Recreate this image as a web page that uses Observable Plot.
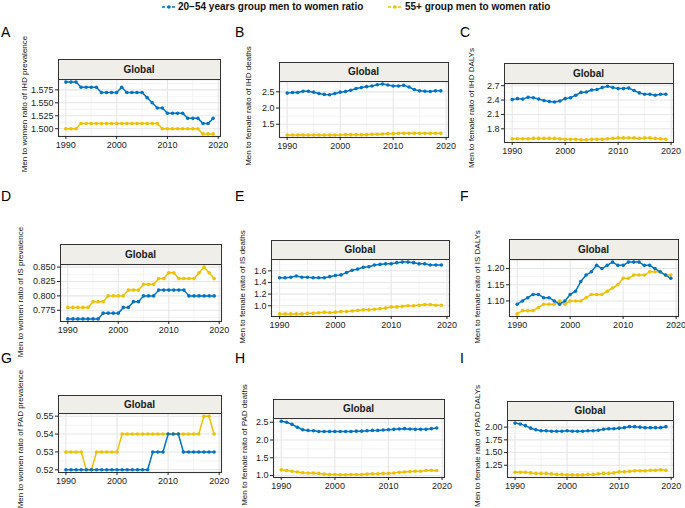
<!DOCTYPE html>
<html><head><meta charset="utf-8">
<script src="https://cdn.jsdelivr.net/npm/d3@7"></script>
<script src="https://cdn.jsdelivr.net/npm/@observablehq/plot@0.6"></script>
<style>
body{margin:0;background:#fff;font-family:"Liberation Sans",Arial,sans-serif;}
#root{position:relative;width:685px;height:508px;overflow:hidden;background:#fff;}
.strip{position:absolute;box-sizing:border-box;background:#efeee9;border:1px solid #333;font-weight:bold;font-size:10px;text-align:center;color:#1a1a1a;}
.ytitle{position:absolute;font-size:8px;white-space:nowrap;transform:translate(-50%,-50%) rotate(-90deg);color:#111;line-height:8px;}
.tag{position:absolute;font-size:14px;line-height:14px;color:#000;}
.leg{position:absolute;font-size:10px;line-height:12px;color:#111;white-space:nowrap;font-weight:bold;}
</style></head><body><div id="root"></div><script>
const years = [1990,1991,1992,1993,1994,1995,1996,1997,1998,1999,2000,2001,2002,2003,2004,2005,2006,2007,2008,2009,2010,2011,2012,2013,2014,2015,2016,2017,2018,2019];
const seriesLabels = ["20\u221254 years group men to women ratio", "55+ group men to women ratio"];
const xTicks = [1990, 2000, 2010, 2020];

const ihdPrevYoung = [1.59,1.59,1.59,1.58,1.58,1.58,1.58,1.57,1.57,1.57,1.57,1.58,1.57,1.57,1.57,1.57,1.56,1.55,1.54,1.54,1.53,1.53,1.53,1.53,1.52,1.52,1.52,1.51,1.51,1.52];
const ihdPrevOld   = [1.50,1.50,1.50,1.51,1.51,1.51,1.51,1.51,1.51,1.51,1.51,1.51,1.51,1.51,1.51,1.51,1.51,1.51,1.51,1.50,1.50,1.50,1.50,1.50,1.50,1.50,1.50,1.49,1.49,1.49];
const ihdDeathYoung = [2.46,2.48,2.48,2.52,2.52,2.49,2.45,2.42,2.41,2.45,2.49,2.51,2.55,2.60,2.63,2.66,2.68,2.72,2.74,2.71,2.68,2.68,2.70,2.65,2.57,2.53,2.52,2.51,2.53,2.53];
const ihdDeathOld   = [1.17,1.17,1.17,1.17,1.17,1.17,1.17,1.17,1.17,1.17,1.17,1.18,1.18,1.18,1.18,1.18,1.19,1.19,1.20,1.21,1.21,1.22,1.22,1.22,1.22,1.22,1.22,1.22,1.22,1.22];
const ihdDalyYoung = [2.41,2.43,2.42,2.46,2.45,2.42,2.39,2.37,2.36,2.38,2.43,2.45,2.50,2.56,2.57,2.61,2.62,2.66,2.69,2.66,2.64,2.64,2.65,2.60,2.55,2.52,2.52,2.50,2.52,2.52];
const ihdDalyOld   = [1.59,1.59,1.59,1.59,1.60,1.60,1.60,1.60,1.60,1.59,1.58,1.58,1.58,1.57,1.57,1.58,1.58,1.58,1.59,1.60,1.61,1.61,1.61,1.61,1.60,1.61,1.61,1.60,1.59,1.58];

const isPrevYoung = [0.76,0.76,0.76,0.76,0.76,0.76,0.76,0.77,0.77,0.77,0.77,0.78,0.78,0.79,0.79,0.80,0.80,0.80,0.81,0.81,0.81,0.81,0.81,0.81,0.80,0.80,0.80,0.80,0.80,0.80];
const isPrevOld   = [0.78,0.78,0.78,0.78,0.78,0.79,0.79,0.79,0.80,0.80,0.80,0.80,0.81,0.81,0.81,0.82,0.82,0.82,0.83,0.83,0.84,0.84,0.83,0.83,0.83,0.83,0.84,0.85,0.84,0.83];
const isDeathYoung = [1.48,1.48,1.49,1.51,1.49,1.49,1.48,1.48,1.48,1.50,1.52,1.53,1.57,1.61,1.63,1.66,1.67,1.70,1.71,1.72,1.72,1.74,1.75,1.75,1.74,1.72,1.72,1.70,1.70,1.70];
const isDeathOld   = [0.86,0.86,0.86,0.86,0.86,0.87,0.87,0.88,0.89,0.88,0.89,0.90,0.90,0.91,0.92,0.93,0.93,0.94,0.95,0.96,0.98,0.98,0.99,1.00,1.00,1.01,1.02,1.02,1.01,1.01];
const isDalyYoung = [1.09,1.10,1.11,1.12,1.12,1.11,1.11,1.10,1.09,1.10,1.12,1.13,1.16,1.18,1.19,1.21,1.20,1.21,1.22,1.21,1.21,1.22,1.22,1.22,1.21,1.21,1.20,1.19,1.18,1.17];
const isDalyOld   = [1.06,1.07,1.07,1.07,1.08,1.09,1.09,1.09,1.10,1.09,1.10,1.10,1.10,1.11,1.12,1.12,1.12,1.13,1.14,1.15,1.17,1.17,1.18,1.18,1.18,1.19,1.19,1.19,1.18,1.18];

const padPrevYoung = [0.52,0.52,0.52,0.52,0.52,0.52,0.52,0.52,0.52,0.52,0.52,0.52,0.52,0.52,0.52,0.52,0.52,0.53,0.53,0.53,0.54,0.54,0.54,0.53,0.53,0.53,0.53,0.53,0.53,0.53];
const padPrevOld   = [0.53,0.53,0.53,0.53,0.52,0.52,0.53,0.53,0.53,0.53,0.53,0.54,0.54,0.54,0.54,0.54,0.54,0.54,0.54,0.54,0.54,0.54,0.54,0.54,0.54,0.54,0.54,0.55,0.55,0.54];
const padDeathYoung = [2.53,2.50,2.44,2.36,2.29,2.27,2.26,2.24,2.24,2.24,2.24,2.24,2.24,2.24,2.25,2.25,2.26,2.27,2.27,2.28,2.29,2.30,2.31,2.32,2.31,2.30,2.30,2.30,2.32,2.34];
const padDeathOld   = [1.16,1.14,1.12,1.10,1.08,1.07,1.07,1.06,1.04,1.03,1.03,1.02,1.02,1.03,1.03,1.03,1.04,1.05,1.05,1.06,1.06,1.07,1.09,1.10,1.11,1.12,1.12,1.14,1.15,1.14];
const padDalyYoung = [2.08,2.06,2.03,1.98,1.95,1.93,1.93,1.92,1.92,1.92,1.93,1.92,1.92,1.92,1.93,1.93,1.94,1.96,1.97,1.97,1.98,1.99,2.01,2.01,2.00,1.99,1.99,1.99,1.99,2.01];
const padDalyOld   = [1.11,1.11,1.11,1.10,1.09,1.09,1.09,1.08,1.07,1.07,1.06,1.06,1.06,1.06,1.07,1.07,1.08,1.09,1.09,1.10,1.12,1.12,1.13,1.14,1.14,1.14,1.15,1.15,1.16,1.15];

const BLUE = "#0073C2", YELLOW = "#EFC000";

const panels = [
  {tag:"A", young:ihdPrevYoung, old:ihdPrevOld, title:"Men to women raito of IHD prevalence", ticks:[1.5,1.525,1.55,1.575], fmt:".3f", g:{left:58,right:220,stripTop:59,top:79,bottom:136,tx:25,ty:104}},
  {tag:"B", young:ihdDeathYoung, old:ihdDeathOld, title:"Men to female raito of IHD deaths", ticks:[1.5,2.0,2.5], fmt:".1f", g:{left:279,right:448,stripTop:62,top:81,bottom:137,tx:249,ty:106}},
  {tag:"C", young:ihdDalyYoung, old:ihdDalyOld, title:"Men to female raito of IHD DALYs", ticks:[1.8,2.1,2.4,2.7], fmt:".1f", g:{left:504,right:673,stripTop:63,top:83,bottom:142,tx:472,ty:108}},
  {tag:"D", young:isPrevYoung, old:isPrevOld, title:"Men to women raito of IS prevalence", ticks:[0.775,0.8,0.825,0.85], fmt:".3f", g:{left:60,right:221,stripTop:244,top:264,bottom:321,tx:21,ty:292}},
  {tag:"E", young:isDeathYoung, old:isDeathOld, title:"Men to female raito of IS deaths", ticks:[1.0,1.2,1.4,1.6], fmt:".1f", g:{left:271,right:449,stripTop:240,top:259,bottom:316,tx:243,ty:287}},
  {tag:"F", young:isDalyYoung, old:isDalyOld, title:"Men to female raito of IS DALYs", ticks:[1.10,1.15,1.20], fmt:".2f", g:{left:509,right:678,stripTop:239,top:259,bottom:316,tx:478,ty:287}},
  {tag:"G", young:padPrevYoung, old:padPrevOld, title:"Men to women raito of PAD prevalence", ticks:[0.52,0.53,0.54,0.55], fmt:".2f", g:{left:58,right:221,stripTop:395,top:413,bottom:472,tx:21,ty:439}},
  {tag:"H", young:padDeathYoung, old:padDeathOld, title:"Men to female raito of PAD deaths", ticks:[1.0,1.5,2.0,2.5], fmt:".1f", g:{left:273,right:444,stripTop:399,top:418,bottom:477,tx:245,ty:445}},
  {tag:"I", young:padDalyYoung, old:padDalyOld, title:"Men to female raito of PAD DALYs", ticks:[1.25,1.5,1.75,2.0], fmt:".2f", g:{left:507,right:673,stripTop:401,top:420,bottom:477,tx:478,ty:446}}
];
const tagPos = {A:[1,37],B:[235,37],C:[460,37],D:[1,201],E:[235,201],F:[460,201],G:[1,363],H:[235,363],I:[460,363]};

const root = document.getElementById("root");
function el(tag, cls, style, text){const e=document.createElement(tag); if(cls) e.className=cls; Object.assign(e.style, style||{}); if(text!=null) e.textContent=text; root.appendChild(e); return e;}

function legendKey(x, color){
  const s = document.createElementNS("http://www.w3.org/2000/svg","svg");
  s.setAttribute("width",16); s.setAttribute("height",8);
  s.style.position="absolute"; s.style.left=x+"px"; s.style.top="3px";
  s.innerHTML = `<line x1="1" x2="15" y1="4" y2="4" stroke="${color}" stroke-width="1.4" stroke-dasharray="3,2"/><circle cx="8" cy="4" r="1.8" fill="${color}"/>`;
  root.appendChild(s);
}
legendKey(161, BLUE);
el("div","leg",{left:"178px",top:"1px"}, seriesLabels[0]);
legendKey(387, YELLOW);
el("div","leg",{left:"405px",top:"1px"}, seriesLabels[1]);

const xdom = [1990 - 29*0.05, 2019 + 29*0.05];
function halfTicks(t, dom){const step=t[1]-t[0]; const out=[]; for(let v=t[0]-step/2; v<=dom[1]; v+=step){ if(v>=dom[0]) out.push(v);} return out;}

for (const p of panels){
  const g = p.g;
  const [tx, ty] = tagPos[p.tag];
  el("div","tag",{left:tx+"px",top:(ty-12)+"px"}, p.tag);
  const data = [];
  years.forEach((yr,i)=>data.push({year:yr, v:p.old[i], s:"old"}));
  years.forEach((yr,i)=>data.push({year:yr, v:p.young[i], s:"young"}));
  const vals = p.young.concat(p.old);
  const lo = d3.min(vals), hi = d3.max(vals), pad=(hi-lo)*0.05;
  const ydom = [lo-pad, hi+pad];
  const ML=40, MR=6, MT=4, MB=18;
  const W = (g.right-g.left)+ML+MR, H=(g.bottom-g.top)+MT+MB;
  const svg = Plot.plot({
    width: W, height: H, marginLeft: ML, marginRight: MR, marginTop: MT, marginBottom: MB,
    style: {fontFamily:'"Liberation Sans",Arial,sans-serif', fontSize:"9px", color:"#222", background:"transparent", overflow:"visible"},
    x: {domain: xdom, type:"linear"},
    y: {domain: ydom, type:"linear"},
    color: {domain:["young","old"], range:[BLUE, YELLOW]},
    marks: [
      Plot.gridX([1995,2005,2015], {stroke:"#ececec", strokeOpacity:1, strokeWidth:0.6}),
      Plot.gridY(halfTicks(p.ticks, ydom), {stroke:"#ececec", strokeOpacity:1, strokeWidth:0.6}),
      Plot.gridX(xTicks, {stroke:"#e6e6e6", strokeOpacity:1, strokeWidth:1.1}),
      Plot.gridY(p.ticks, {stroke:"#e6e6e6", strokeOpacity:1, strokeWidth:1.1}),
      Plot.line(data, {x:"year", y:"v", stroke:"s", z:"s", strokeWidth:1.5}),
      Plot.dot(data, {x:"year", y:"v", fill:"s", r:1.8}),
      Plot.frame({stroke:"#333", strokeWidth:1.1}),
      Plot.axisX(xTicks, {tickFormat:"d", tickSize:3, tickPadding:2, label:null, fontSize:9}),
      Plot.axisY(p.ticks, {tickFormat:p.fmt, tickSize:3, tickPadding:2, label:null, fontSize:9})
    ]
  });
  svg.style.position="absolute";
  svg.style.left=(g.left-ML)+"px";
  svg.style.top=(g.top-MT)+"px";
  root.appendChild(svg);
  el("div","strip",{left:(g.left-0.5)+"px", top:g.stripTop+"px", width:(g.right-g.left+1)+"px", height:(g.top-g.stripTop+0.5)+"px", lineHeight:(g.top-g.stripTop-1)+"px"}, "Global");
  el("div","ytitle",{left:g.tx+"px", top:g.ty+"px"}, p.title);
}
</script></body></html>
